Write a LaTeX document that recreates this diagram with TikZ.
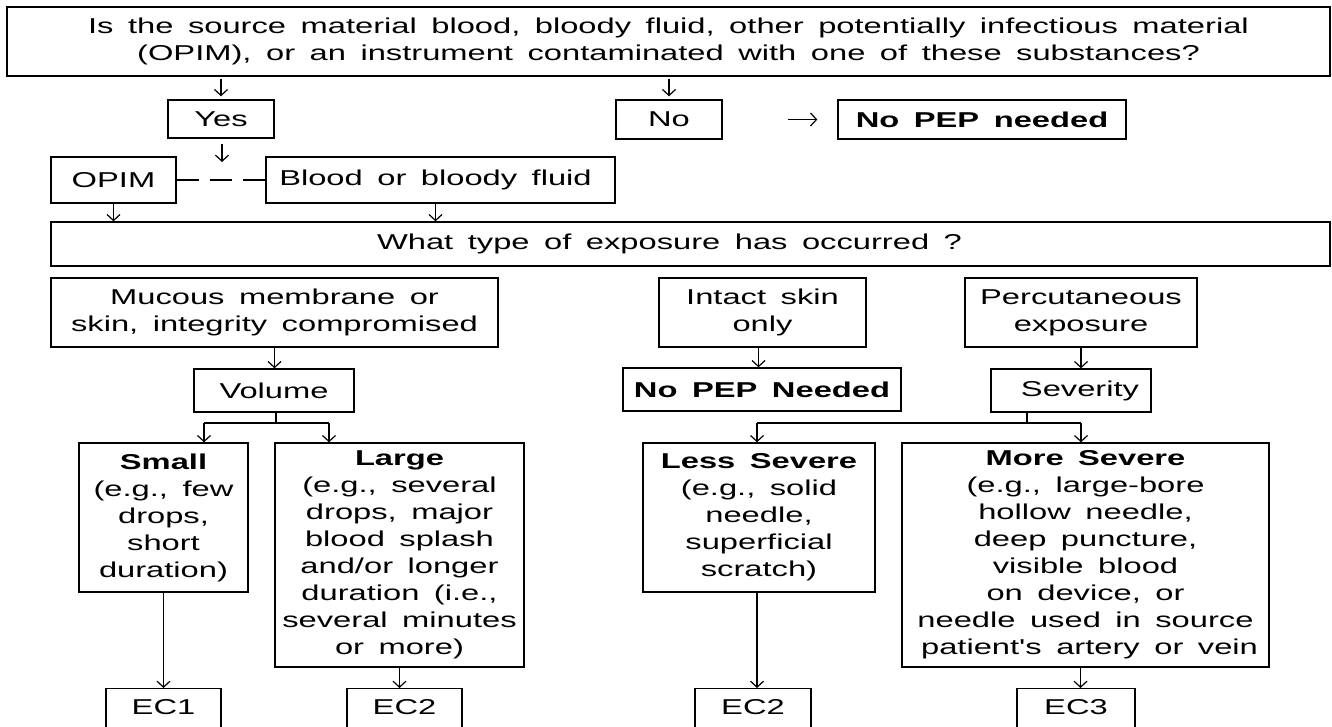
\documentclass[tikz,border=0pt]{standalone}
\usepackage{fontspec}
\setmainfont{Liberation Sans}[FakeStretch=1.52, WordSpace=1.6, Ligatures=TeXOff]
\usetikzlibrary{arrows.meta}
\begin{document}
\begin{tikzpicture}[x=1pt,y=-1pt,
  every node/.style={font=\fontsize{21.5}{27}\selectfont, align=center},
  box/.style={draw, line width=1.4pt, inner sep=2pt},
  ecbox/.style={draw, line width=1.4pt, inner sep=2pt, anchor=north, text height=24pt, text depth=20pt},
  conn/.style={line width=1.2pt},
  arr/.style={line width=1.2pt, -{Straight Barb[length=6pt,width=13pt,line width=1.2pt]}},
  dashline/.style={line width=1.2pt, dash pattern=on 22pt off 11pt}]
\useasboundingbox (0,0) rectangle (1332,726);
\fill[white] (0,0) rectangle (1332,726);
\clip (0,0) rectangle (1332,726);

% nodes
\node[box, minimum width=1323, minimum height=69] (top) at (668.5,41.5)
  {Is the source material blood, bloody fluid, other potentially infectious material\\(OPIM), or an instrument contaminated with one of these substances?};
\node[box, minimum width=106, minimum height=38] (yes) at (221,119) {Yes};
\node[box, minimum width=106, minimum height=39] (no) at (669,119.5) {No};
\node[box, minimum width=288, minimum height=39] (nopepa) at (982,119.5) {\textbf{No PEP needed}};
\node[box, minimum width=125, minimum height=46] (opim) at (113.5,180) {OPIM};
\node[box, minimum width=349, minimum height=46] (blood) at (440.5,180) {Blood or bloody fluid\hspace*{10pt}};
\node[box, minimum width=1279, minimum height=44,
  label={[xshift=-21pt, font=\fontsize{21.5}{27}\selectfont]center:What type of exposure has occurred ?}] (what) at (690.5,244) {};
\node[box, minimum width=447, minimum height=69] (mucous) at (274.5,312.5) {Mucous membrane or\\skin, integrity compromised};
\node[box, minimum width=207, minimum height=69] (intact) at (762.5,312.5) {Intact skin\\only};
\node[box, minimum width=232, minimum height=69] (perc) at (1081,312.5) {Percutaneous\\exposure};
\node[box, minimum width=160, minimum height=43] (vol) at (274,390.5) {Volume};
\node[box, minimum width=278, minimum height=43] (nopepb) at (762,389.5) {\textbf{No PEP Needed}};
\node[box, minimum width=160, minimum height=43] (sev) at (1071,390.5) {\hspace*{18pt}Severity};
\node[box, minimum width=169, minimum height=149] (small) at (163.5,517.5)
  {\textbf{Small}\\(e.g., few\\drops,\\short\\duration)};
\node[box, minimum width=249, minimum height=224] (large) at (399.5,555)
  {\textbf{Large}\\(e.g., several\\drops, major\\blood splash\\and/or longer\\duration (i.e.,\\several minutes\\or more)};
\node[box, minimum width=232, minimum height=149] (less) at (759,517.5)
  {\textbf{Less Severe}\\(e.g., solid\\needle,\\superficial\\scratch)};
\node[box, minimum width=367, minimum height=224] (more) at (1085.5,555)
  {\textbf{More Severe}\\(e.g., large-bore\\hollow needle,\\deep puncture,\\visible blood\\on device, or\\needle used in source\\patient's artery or vein\hspace*{-8pt}};
\node[ecbox, minimum width=115] (econe) at (163.5,688) {EC1};
\node[ecbox, minimum width=115] (ectwoa) at (404.5,688) {EC2};
\node[ecbox, minimum width=116] (ectwob) at (753,688) {EC2};
\node[ecbox, minimum width=118] (ecthree) at (1076,688) {EC3};

% coordinates
\coordinate (choice) at (222,162);
\coordinate (vbM) at (276,423);
\coordinate (vbL) at (204,423);
\coordinate (vbR) at (329,423);
\coordinate (sbM) at (1027,423);
\coordinate (sbL) at (757,423);
\coordinate (sbR) at (1081,423);

% connectors
\draw[arr, shorten <=2pt, shorten >=3pt] (top.south -| yes.north) -- (yes.north);
\draw[arr, shorten <=2pt, shorten >=3pt] (top.south -| no.north) -- (no.north);
\draw[arr, shorten <=65pt, shorten >=20pt] (no.east) -- (nopepa.west);
\draw[arr, shorten <=5pt] (yes.south -| choice) -- (choice);
\draw[dashline] (opim.east) -- (blood.west);
\draw[arr] (opim.south) -- (opim.south |- what.north);
\draw[arr] ([xshift=-5pt]blood.south) -- ([xshift=-5pt]blood.south |- what.north);
\draw[arr] (mucous.south) -- (mucous.south |- vol.north);
\draw[arr] ([xshift=-4pt]intact.south) -- ([xshift=-4pt]intact.south |- nopepb.north);
\draw[arr] (perc.south) -- (perc.south |- sev.north);

\draw[conn] (vol.south -| vbM) -- (vbM);
\draw[conn] (vbL) -- (vbR);
\draw[arr] (vbL) -- (vbL |- small.north);
\draw[arr] (vbR) -- (vbR |- large.north);

\draw[conn] (sev.south -| sbM) -- (sbM);
\draw[conn] (sbL) -- (sbR);
\draw[arr] (sbL) -- (sbL |- less.north);
\draw[arr] (sbR) -- (sbR |- more.north);

\draw[arr] (small.south) -- (small.south |- econe.north);
\draw[arr] (large.south) -- (large.south |- ectwoa.north);
\draw[arr] ([xshift=-2pt]less.south) -- ([xshift=-2pt]less.south |- ectwob.north);
\draw[arr] ([xshift=-5pt]more.south) -- ([xshift=-5pt]more.south |- ecthree.north);
\end{tikzpicture}
\end{document}
